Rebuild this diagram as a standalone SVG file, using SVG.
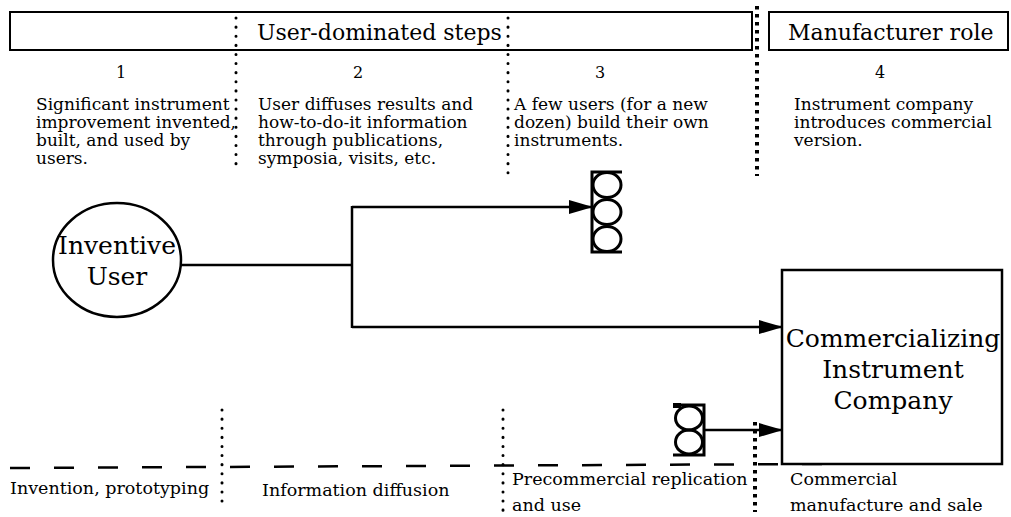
<svg xmlns="http://www.w3.org/2000/svg" width="1011" height="517" viewBox="0 0 1011 517">
  <style>
    .frame { fill: none; stroke: #000; stroke-width: 2; }
    .node { fill: #fff; stroke: #000; stroke-width: 2.5; }
    .ring { fill: none; stroke: #000; stroke-width: 3; }
    .bar { fill: none; stroke: #000; stroke-width: 3; }
    .dots { stroke: #000; stroke-width: 3; stroke-linecap: round; stroke-dasharray: 0.1 9; fill: none; }
    .ticks { stroke: #000; stroke-width: 4; stroke-dasharray: 3.5 4.5; fill: none; }
    .phase { stroke: #000; stroke-width: 2.5; stroke-dasharray: 20 24; fill: none; }
    .link { stroke: #000; stroke-width: 2.5; fill: none; }
    text { font-family: "DejaVu Serif", "Liberation Serif", serif; fill: #000; }
    .head { font-size: 22px; }
    .num { font-size: 16px; text-anchor: middle; }
    .desc { font-size: 17px; }
    .label { font-size: 17.5px; }
    .big { font-size: 25px; text-anchor: middle; }
  </style>
  <defs>
    <marker id="arrow" viewBox="0 0 24 14" refX="24" refY="7" markerWidth="24" markerHeight="14" markerUnits="userSpaceOnUse" orient="auto">
      <path d="M0,0 L24,7 L0,14 Z" fill="#000"/>
    </marker>
  </defs>

  <!-- header bands -->
  <g id="header">
    <rect class="frame" x="10" y="12" width="742" height="38"/>
    <text class="head" x="257" y="40">User-dominated steps</text>
    <rect class="frame" x="769" y="12" width="239" height="38"/>
    <text class="head" x="788" y="40">Manufacturer role</text>
  </g>

  <!-- step separators -->
  <g id="separators">
    <line class="dots" x1="236" y1="18" x2="236" y2="165"/>
    <line class="dots" x1="508" y1="18" x2="508" y2="175"/>
    <line class="ticks" x1="757" y1="6" x2="757" y2="176"/>
    <line class="dots" x1="222" y1="410" x2="222" y2="506"/>
    <line class="dots" x1="503" y1="410" x2="503" y2="512"/>
    <line class="ticks" x1="755" y1="422" x2="755" y2="512"/>
    <line class="phase" x1="10" y1="468" x2="1011" y2="463"/>
  </g>

  <!-- step descriptions -->
  <g id="step-1">
    <text class="num" x="121" y="78">1</text>
    <text class="desc" x="36" y="110">Significant instrument</text>
    <text class="desc" x="36" y="128">improvement invented,</text>
    <text class="desc" x="36" y="146">built, and used by</text>
    <text class="desc" x="36" y="164">users.</text>
  </g>
  <g id="step-2">
    <text class="num" x="358" y="78">2</text>
    <text class="desc" x="258" y="110">User diffuses results and</text>
    <text class="desc" x="258" y="128">how-to-do-it information</text>
    <text class="desc" x="258" y="146">through publications,</text>
    <text class="desc" x="258" y="164">symposia, visits, etc.</text>
  </g>
  <g id="step-3">
    <text class="num" x="600" y="78">3</text>
    <text class="desc" x="514" y="110">A few users (for a new</text>
    <text class="desc" x="514" y="128">dozen) build their own</text>
    <text class="desc" x="514" y="146">instruments.</text>
  </g>
  <g id="step-4">
    <text class="num" x="880" y="78">4</text>
    <text class="desc" x="794" y="110">Instrument company</text>
    <text class="desc" x="794" y="128">introduces commercial</text>
    <text class="desc" x="794" y="146">version.</text>
  </g>

  <!-- connectors -->
  <g id="connectors">
    <polyline class="link" points="181,265 352,265"/>
    <polyline class="link" points="352,206 352,328"/>
    <line class="link" x1="352" y1="207" x2="593" y2="207" marker-end="url(#arrow)"/>
    <line class="link" x1="352" y1="327" x2="783" y2="327" marker-end="url(#arrow)"/>
    <line class="link" x1="704" y1="430" x2="783" y2="430" marker-end="url(#arrow)"/>
  </g>

  <!-- nodes -->
  <g id="inventive-user">
    <ellipse class="node" cx="117" cy="260" rx="64" ry="57"/>
    <text class="big" x="117" y="254">Inventive</text>
    <text class="big" x="117" y="285">User</text>
  </g>

  <g id="user-builders">
    <path class="bar" d="M622,172 L592,172 L592,252 L622,252"/>
    <ellipse class="ring" cx="607" cy="185" rx="14" ry="12.5"/>
    <ellipse class="ring" cx="607" cy="212" rx="14" ry="12.5"/>
    <ellipse class="ring" cx="607" cy="239" rx="14" ry="12.5"/>
  </g>

  <g id="replicators">
    <path class="bar" d="M673,405 L704,405 L704,455 L673,455"/>
    <rect x="673" y="403" width="8" height="5" fill="#000"/>
    <ellipse class="ring" cx="689" cy="418" rx="13.5" ry="12"/>
    <ellipse class="ring" cx="689" cy="442" rx="13.5" ry="12"/>
  </g>

  <g id="instrument-company">
    <rect class="node" x="782" y="270" width="220" height="194"/>
    <text class="big" x="893" y="347">Commercializing</text>
    <text class="big" x="893" y="378">Instrument</text>
    <text class="big" x="893" y="409">Company</text>
  </g>

  <!-- phase labels -->
  <g id="phases">
    <text class="label" x="10" y="494">Invention, prototyping</text>
    <text class="label" x="262" y="496">Information diffusion</text>
    <text class="label" x="512" y="485">Precommercial replication</text>
    <text class="label" x="512" y="511">and use</text>
    <text class="label" x="790" y="485">Commercial</text>
    <text class="label" x="790" y="511">manufacture and sale</text>
  </g>
</svg>
